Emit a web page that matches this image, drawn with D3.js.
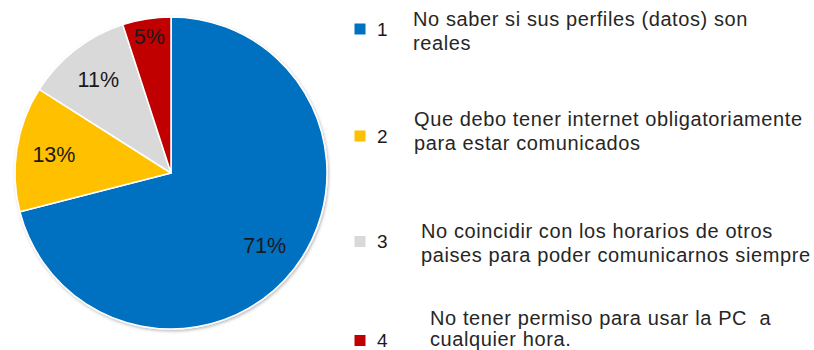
<!DOCTYPE html>
<html>
<head>
<meta charset="utf-8">
<script src="https://cdn.jsdelivr.net/npm/d3@7"></script>
<style>
  html, body { margin: 0; padding: 0; background: #fff; }
  svg { display: block; }
</style>
</head>
<body>
<svg id="chart" width="814" height="350"></svg>
<script>
// Survey answers: share of respondents per concern
const categories = ["1", "2", "3", "4"];
const values = [71, 13, 11, 5];
const legendLines = [
  ["No saber si sus perfiles (datos) son", "reales"],
  ["Que debo tener internet obligatoriamente", "para estar comunicados"],
  ["No coincidir con los horarios de otros", "paises para poder comunicarnos siempre"],
  ["No tener permiso para usar la PC  a", "cualquier hora."]
];
const colors = ["#0070C0", "#FFC000", "#D9D9D9", "#C00000"];

const svg = d3.select("#chart");
const cx = 171, cy = 173, radius = 156;
const FONT = "'Liberation Sans', Arial, sans-serif";

// soft shadow around the pie
const defs = svg.append("defs");
const f = defs.append("filter").attr("id", "pieShadow")
  .attr("x", "-10%").attr("y", "-10%").attr("width", "120%").attr("height", "120%");
f.append("feDropShadow").attr("dx", 1).attr("dy", 1.5)
  .attr("stdDeviation", 1.6).attr("flood-color", "#000").attr("flood-opacity", 0.28);

const color = d3.scaleOrdinal().domain(categories).range(colors);

const pie = d3.pie().sort(null).value(d => d.value);
const data = categories.map((c, i) => ({ cat: c, value: values[i] }));
const arcs = pie(data);

const arc = d3.arc().innerRadius(0).outerRadius(radius);

const g = svg.append("g").attr("transform", `translate(${cx},${cy})`);

g.append("g").attr("filter", "url(#pieShadow)")
  .selectAll("path")
  .data(arcs)
  .join("path")
  .attr("d", arc)
  .attr("fill", d => color(d.data.cat))
  .attr("stroke", "#fff")
  .attr("stroke-width", 1.5)
  .attr("stroke-linejoin", "round");

// percentage labels; thin slices get their label pushed outward
const total = d3.sum(values);
g.selectAll("text.pct")
  .data(arcs)
  .join("text")
  .attr("class", "pct")
  .attr("transform", d => {
    const share = d.data.value / total;
    const r = share < 0.07 ? radius * 0.885 : radius * 0.76;
    const a = (d.startAngle + d.endAngle) / 2;
    return `translate(${Math.sin(a) * r},${-Math.cos(a) * r})`;
  })
  .attr("text-anchor", "middle")
  .attr("dy", "0.36em")
  .attr("font-family", FONT)
  .attr("font-size", 21.5)
  .attr("fill", "#1a1a1a")
  .text(d => `${d.data.value}%`);

// legend layout: row centres, text start and line baselines relative to each row
const rowY = [29, 136, 241.5, 340.5];
const textX = [413, 414, 421, 430];
const lineOffsets = [[-3.3, 21], [-10, 14], [-3.8, 20.2], [-16, 5.5]];

const items = svg.append("g").selectAll("g.item")
  .data(categories)
  .join("g")
  .attr("class", "item");

items.append("rect")
  .attr("x", 354.5)
  .attr("y", (d, i) => rowY[i] - 5.5)
  .attr("width", 11)
  .attr("height", 11)
  .attr("fill", d => color(d));

items.append("text")
  .attr("x", 377)
  .attr("y", (d, i) => rowY[i] + 6.5)
  .attr("font-family", FONT)
  .attr("font-size", 19)
  .attr("fill", "#1a1a1a")
  .text(d => d);

items.each(function(d, i) {
  const t = d3.select(this).append("text")
    .attr("font-family", FONT)
    .attr("font-size", 20)
    .attr("letter-spacing", 0.6)
    .attr("fill", "#262626")
    .style("white-space", "pre");
  legendLines[i].forEach((line, k) => {
    t.append("tspan")
      .attr("x", textX[i])
      .attr("y", rowY[i] + lineOffsets[i][k])
      .text(line);
  });
});
</script>
</body>
</html>
